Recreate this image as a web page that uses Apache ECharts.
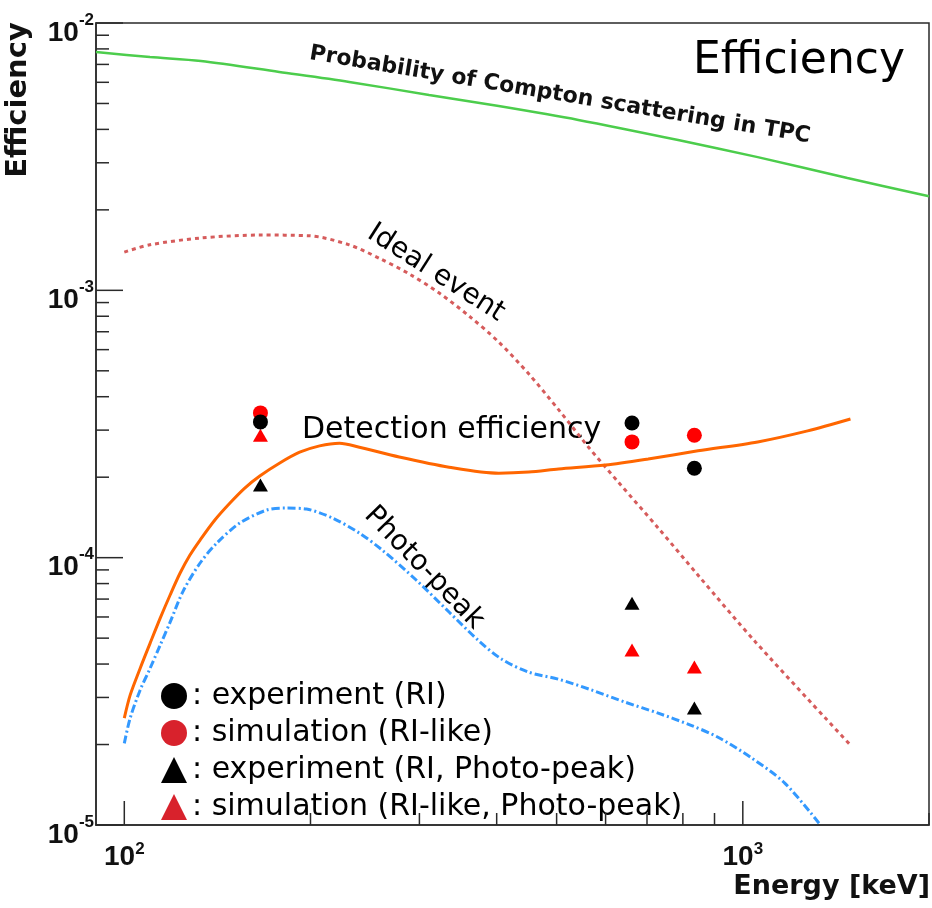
<!DOCTYPE html>
<html><head><meta charset="utf-8">
<script src="https://cdn.jsdelivr.net/npm/echarts@6/dist/echarts.min.js"></script>
<style>html,body{margin:0;padding:0;background:#fff}#c{width:932px;height:908px}</style>
</head><body><div id="c"></div>
<script>
// ---- data (Energy in keV, efficiency) ----
const comptonE   = [90, 110, 133, 178, 231, 311, 403, 542, 786, 1057, 1476, 2000];
const comptonEff = [7.79e-3, 7.46e-3, 7.21e-3, 6.56e-3, 6.02e-3, 5.38e-3, 4.89e-3, 4.34e-3, 3.65e-3, 3.15e-3, 2.63e-3, 2.25e-3];

const idealE   = [100, 110, 133, 166, 199, 231, 258, 289, 323, 361, 403, 451, 504, 563, 629, 730, 846, 1049, 1493];
const idealEff = [1.39e-3, 1.48e-3, 1.57e-3, 1.61e-3, 1.60e-3, 1.48e-3, 1.32e-3, 1.151e-3, 9.77e-4, 8.01e-4, 6.41e-4, 4.86e-4, 3.57e-4, 2.59e-4, 1.918e-4, 1.29e-4, 8.61e-5, 4.83e-5, 1.99e-5];

const detE   = [100, 102.2, 106.1, 110.1, 114.3, 118.6, 123.1, 127.7, 132.6, 140.1, 148.2, 156.6, 165.6, 178.4, 192.1, 206.9, 222.8, 239.9, 278.3, 335.0, 403.2, 450.6, 503.7, 599.7, 703.1, 846.2, 1057, 1273, 1493];
const detEff = [2.51e-5, 3.06e-5, 3.86e-5, 4.79e-5, 5.94e-5, 7.25e-5, 8.76e-5, 1.023e-4, 1.164e-4, 1.383e-4, 1.601e-4, 1.821e-4, 2.02e-4, 2.26e-4, 2.48e-4, 2.62e-4, 2.68e-4, 2.59e-4, 2.38e-4, 2.18e-4, 2.07e-4, 2.09e-4, 2.145e-4, 2.22e-4, 2.34e-4, 2.51e-4, 2.71e-4, 2.98e-4, 3.30e-4];

const ppE   = [100, 102.2, 106.1, 110.1, 114.3, 118.6, 124.5, 132.6, 141.1, 153.7, 170.0, 183.0, 197.1, 217.1, 239.9, 261.3, 296.4, 335.0, 374.4, 407.7, 450.6, 503.7, 569.3, 645.6, 729.8, 824.7, 911.7, 1030, 1169, 1335];
const ppEff = [2.02e-5, 2.51e-5, 3.20e-5, 3.86e-5, 4.71e-5, 5.74e-5, 7.5e-5, 9.55e-5, 1.134e-4, 1.347e-4, 1.507e-4, 1.533e-4, 1.52e-4, 1.406e-4, 1.236e-4, 1.067e-4, 8.25e-5, 6.26e-5, 4.88e-5, 4.17e-5, 3.73e-5, 3.51e-5, 3.20e-5, 2.88e-5, 2.62e-5, 2.36e-5, 2.13e-5, 1.79e-5, 1.435e-5, 1.0e-5];

const sourceE = [166, 662, 835];
const expRI   = [3.22e-4, 3.19e-4, 2.16e-4];
const simRI   = [3.48e-4, 2.71e-4, 2.87e-4];
const expPP   = [1.87e-4, 6.76e-5, 2.74e-5];
const simPP   = [2.87e-4, 4.51e-5, 3.90e-5];

// ---- axes / ticks ----
const xMin = 90, xMax = 2000, yMin = 1e-5, yMax = 1e-2;
const xMajorTicks = [100, 1000];
const yMajorTicks = [1e-5, 1e-4, 1e-3, 1e-2];
const xMinorTicks = [200, 300, 400, 500, 600, 700, 800, 900, 2000];
const yMinorTicks = [2e-5, 3e-5, 4e-5, 5e-5, 6e-5, 7e-5, 8e-5, 9e-5,
                     2e-4, 3e-4, 4e-4, 5e-4, 6e-4, 7e-4, 8e-4, 9e-4,
                     2e-3, 3e-3, 4e-3, 5e-3, 6e-3, 7e-3, 8e-3, 9e-3];

const zip = (a, b) => a.map((v, i) => [v, b[i]]);
const isMajor = (v, list) => list.some(t => Math.abs(Math.log10(v) - Math.log10(t)) < 1e-6);
const expo = v => Math.round(Math.log10(v));

const AX = '#2a2a2a';
const comic = 'DejaVu Sans';
const boldFont = 'DejaVu Sans';

const chart = echarts.init(document.getElementById('c'), null, {renderer: 'canvas'});

function yTick(len) {
  return (params, api) => {
    const p = api.coord([xMin, api.value(1)]);
    return {type: 'line', shape: {x1: p[0], y1: p[1], x2: p[0] + len, y2: p[1]}, style: {stroke: AX, lineWidth: 1.5}};
  };
}
function xTick(len) {
  return (params, api) => {
    const p = api.coord([api.value(0), yMin]);
    return {type: 'line', shape: {x1: p[0], y1: p[1], x2: p[0], y2: p[1] - len}, style: {stroke: AX, lineWidth: 1.5}};
  };
}

const option = {
  backgroundColor: '#fff',
  animation: false,
  grid: {left: 96, top: 23, right: 1, bottom: 83, show: true, borderColor: AX, borderWidth: 1.5, backgroundColor: 'transparent'},
  xAxis: {
    type: 'log', logBase: 10, min: xMin, max: xMax,
    axisLine: {show: true, lineStyle: {color: AX, width: 1.5}},
    axisTick: {show: false},
    splitLine: {show: false}, minorTick: {show: false},
    axisLabel: {
      margin: 16,
      formatter: v => isMajor(v, xMajorTicks) ? '{b|10}{s|' + expo(v) + '}' : '',
      rich: {
        b: {fontFamily: 'Liberation Sans', fontWeight: 'bold', fontSize: 28, color: '#111'},
        s: {fontFamily: 'Liberation Sans', fontWeight: 'bold', fontSize: 17, color: '#111', padding: [0, 0, 16, 0]}
      }
    }
  },
  yAxis: {
    type: 'log', logBase: 10, min: yMin, max: yMax,
    axisLine: {show: true, lineStyle: {color: AX, width: 1.5}},
    axisTick: {show: false},
    splitLine: {show: false}, minorTick: {show: false},
    axisLabel: {
      margin: 2,
      formatter: v => isMajor(v, yMajorTicks) ? '{b|10}{s|' + expo(v) + '}' : '',
      rich: {
        b: {fontFamily: 'Liberation Sans', fontWeight: 'bold', fontSize: 28, color: '#111', padding: [20, 0, 0, 0]},
        s: {fontFamily: 'Liberation Sans', fontWeight: 'bold', fontSize: 17, color: '#111', padding: [0, 0, 6, 0]}
      }
    }
  },
  legend: {
    data: [
      {name: 'experiment (RI)', icon: 'circle', itemStyle: {color: '#000', opacity: 1}},
      {name: 'simulation (RI-like)', icon: 'circle', itemStyle: {color: '#d8222c', opacity: 1}},
      {name: 'experiment (RI, Photo-peak)', icon: 'triangle', itemStyle: {color: '#000', opacity: 1}},
      {name: 'simulation (RI-like, Photo-peak)', icon: 'triangle', itemStyle: {color: '#d8222c', opacity: 1}}
    ],
    orient: 'vertical', left: 156, top: 676, itemWidth: 26, itemHeight: 26, itemGap: 7,
    selectedMode: false,
    formatter: n => ': ' + n,
    textStyle: {fontFamily: comic, fontSize: 30, color: '#000'}
  },
  graphic: [
    {type: 'text', style: {text: 'Efficiency', x: 905, y: 62, align: 'right', verticalAlign: 'middle', font: '44px "' + comic + '"', fill: '#000'}},
    {type: 'text', x: 560, y: 95, rotation: -0.165, style: {text: 'Probability of Compton scattering in TPC', x: 0, y: 0, align: 'center', verticalAlign: 'middle', font: 'bold 22px "' + boldFont + '"', fill: '#111'}},
    {type: 'text', x: 436, y: 273, rotation: -0.57, style: {text: 'Ideal event', x: 0, y: 0, align: 'center', verticalAlign: 'middle', font: '28px "' + comic + '"', fill: '#000'}},
    {type: 'text', style: {text: 'Detection efficiency', x: 302, y: 430, align: 'left', verticalAlign: 'middle', font: '30px "' + comic + '"', fill: '#000'}},
    {type: 'text', x: 424, y: 568, rotation: -0.8, style: {text: 'Photo-peak', x: 0, y: 0, align: 'center', verticalAlign: 'middle', font: '28px "' + comic + '"', fill: '#000'}},
    {type: 'text', x: 18, y: 100, rotation: Math.PI / 2, style: {text: 'Efficiency', x: 0, y: 0, align: 'center', verticalAlign: 'middle', font: 'bold 29px "' + boldFont + '"', fill: '#111'}},
    {type: 'text', style: {text: 'Energy [keV]', x: 930, y: 887, align: 'right', verticalAlign: 'middle', font: 'bold 27px "' + boldFont + '"', fill: '#111'}}
  ],
  series: [
    {name: 'Probability of Compton scattering in TPC', type: 'line', data: zip(comptonE, comptonEff), showSymbol: false, smooth: 0.3,
     lineStyle: {color: '#4ccd4c', width: 2.5}, z: 2},
    {name: 'Ideal event', type: 'line', data: zip(idealE, idealEff), showSymbol: false, smooth: 0.3,
     lineStyle: {color: '#d65c5c', width: 3, type: [4, 4]}, z: 2},
    {name: 'Detection efficiency', type: 'line', data: zip(detE, detEff), showSymbol: false, smooth: 0.3,
     lineStyle: {color: '#ff6600', width: 3}, z: 2},
    {name: 'Photo-peak', type: 'line', data: zip(ppE, ppEff), showSymbol: false, smooth: 0.3,
     lineStyle: {color: '#3399ff', width: 3, type: [8, 3, 2, 3]}, z: 2},
    {name: 'simulation (RI-like)', type: 'scatter', symbol: 'circle', symbolSize: 15, data: zip(sourceE, simRI), itemStyle: {color: '#ff0000', opacity: 1}, z: 5},
    {name: 'simulation (RI-like, Photo-peak)', type: 'scatter', symbol: 'triangle', symbolSize: [15, 13], data: zip(sourceE, simPP), itemStyle: {color: '#ff0000', opacity: 1}, z: 5},
    {name: 'experiment (RI)', type: 'scatter', symbol: 'circle', symbolSize: 15, data: zip(sourceE, expRI), itemStyle: {color: '#000', opacity: 1}, z: 6},
    {name: 'experiment (RI, Photo-peak)', type: 'scatter', symbol: 'triangle', symbolSize: [15, 13], data: zip(sourceE, expPP), itemStyle: {color: '#000', opacity: 1}, z: 6},
    {type: 'custom', silent: true, clip: false, z: 7, data: yMinorTicks.map(v => [xMin, v]), renderItem: yTick(13)},
    {type: 'custom', silent: true, clip: false, z: 7, data: yMajorTicks.map(v => [xMin, v]), renderItem: yTick(27)},
    {type: 'custom', silent: true, clip: false, z: 7, data: xMinorTicks.map(v => [v, yMin]), renderItem: xTick(12)},
    {type: 'custom', silent: true, clip: false, z: 7, data: xMajorTicks.map(v => [v, yMin]), renderItem: xTick(24)}
  ]
};
chart.setOption(option);
</script>
</body></html>
